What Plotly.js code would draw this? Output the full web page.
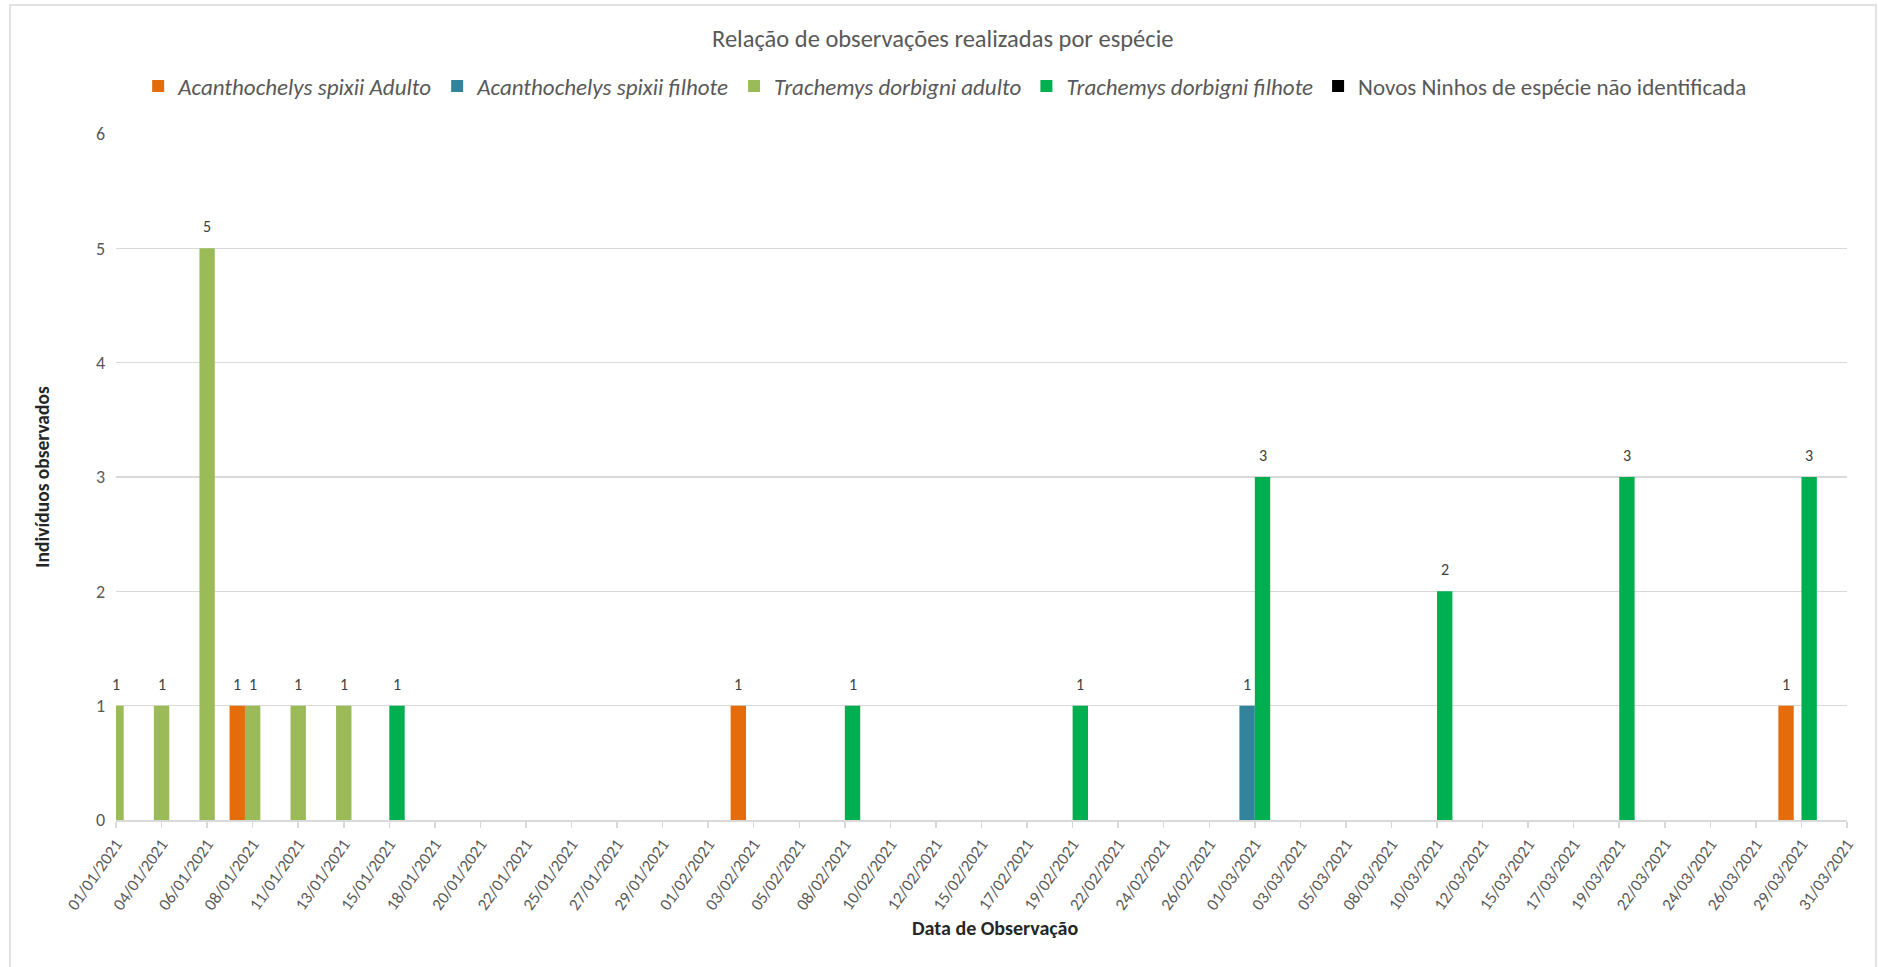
<!DOCTYPE html>
<html>
<head>
<meta charset="utf-8">
<script src="https://cdn.plot.ly/plotly-3.0.1.min.js"></script>
<style>html,body{margin:0;padding:0;background:#fff;}#chart{width:1878px;height:967px;}</style>
</head>
<body>
<div id="chart"></div>
<script>
// ---- data ----
const categories = ['01/01/2021','04/01/2021','06/01/2021','08/01/2021','11/01/2021','13/01/2021','15/01/2021','18/01/2021','20/01/2021','22/01/2021','25/01/2021','27/01/2021','29/01/2021','01/02/2021','03/02/2021','05/02/2021','08/02/2021','10/02/2021','12/02/2021','15/02/2021','17/02/2021','19/02/2021','22/02/2021','24/02/2021','26/02/2021','01/03/2021','03/03/2021','05/03/2021','08/03/2021','10/03/2021','12/03/2021','15/03/2021','17/03/2021','19/03/2021','22/03/2021','24/03/2021','26/03/2021','29/03/2021','31/03/2021'];

const seriesNames = ['Acanthochelys spixii Adulto','Acanthochelys spixii filhote','Trachemys dorbigni adulto','Trachemys dorbigni filhote','Novos Ninhos de espécie não identificada'];

const acanthoAdultoDates = ['08/01/2021','03/02/2021','29/03/2021'];
const acanthoAdultoValues = [1,1,1];
const acanthoFilhoteDates = ['01/03/2021'];
const acanthoFilhoteValues = [1];
const trachAdultoDates = ['01/01/2021','04/01/2021','06/01/2021','08/01/2021','11/01/2021','13/01/2021'];
const trachAdultoValues = [1,1,5,1,1,1];
const trachFilhoteDates = ['15/01/2021','08/02/2021','19/02/2021','01/03/2021','10/03/2021','19/03/2021','29/03/2021'];
const trachFilhoteValues = [1,1,1,3,2,3,3];
const ninhosDates = [];
const ninhosValues = [];

const yTicks = [0,1,2,3,4,5,6];

// ---- styles ----
const colors = ['#E46C0A','#31849B','#9BBB59','#00B050','#000000'];
const italic = [true,true,true,true,false];
const FONT = "Carlito, 'Liberation Sans Narrow', Lato, sans-serif";
const barWidth = 0.338;           // in category units (Excel overlap 50%)
const step = barWidth/2;
const offsets = [-3*step,-2*step,-step,0,step];

const seriesData = [
  [acanthoAdultoDates, acanthoAdultoValues],
  [acanthoFilhoteDates, acanthoFilhoteValues],
  [trachAdultoDates, trachAdultoValues],
  [trachFilhoteDates, trachFilhoteValues],
  [ninhosDates, ninhosValues]
];

const traces = [];
const annotations = [];
seriesData.forEach(([dates, vals], i) => {
  const xs = dates.map(d => categories.indexOf(d));
  traces.push({
    type: 'bar',
    name: italic[i] ? '<i>' + seriesNames[i] + '</i>' : seriesNames[i],
    x: xs.length ? xs : [null],
    y: vals.length ? vals : [null],
    width: barWidth,
    offset: offsets[i],
    marker: {color: colors[i], line: {width: 0}},
    hoverinfo: 'x+y+name'
  });
  xs.forEach((x, k) => {
    annotations.push({
      x: x + offsets[i] + barWidth/2, y: vals[k], xref: 'x', yref: 'y',
      text: String(vals[k]), showarrow: false, yanchor: 'bottom', yshift: 10,
      font: {family: FONT, size: 16, color: '#404040'}
    });
  });
});

// x-axis title (placed as an annotation so it can sit slightly right of centre, as in the original)
annotations.push({
  text: 'Data de Observação', xref: 'paper', yref: 'paper',
  x: (995 - 116) / 1731, y: (820 - 928) / 686, xanchor: 'center', yanchor: 'middle',
  showarrow: false, font: {family: FONT, size: 20, color: '#262626', weight: 'bold'}
});

const layout = {
  width: 1878, height: 967,
  margin: {l: 116, r: 31, t: 134, b: 147},
  paper_bgcolor: '#ffffff', plot_bgcolor: '#ffffff',
  barmode: 'overlay',
  font: {family: FONT, color: '#595959'},
  title: {
    text: 'Relação de observações realizadas por espécie',
    font: {family: FONT, size: 24.5, color: '#595959'},
    x: 0.502, xref: 'container', xanchor: 'center',
    y: 1 - 38/967, yref: 'container', yanchor: 'middle'
  },
  legend: {
    orientation: 'h', x: 0.479, xanchor: 'center', y: 1.07, yanchor: 'middle',
    font: {family: FONT, size: 23, color: '#595959'},
    itemclick: false, bgcolor: 'rgba(0,0,0,0)'
  },
  xaxis: {
    type: 'linear', range: [0, categories.length - 1],
    tickmode: 'array', tickvals: categories.map((_, i) => i), ticktext: categories,
    tickangle: -55, tickfont: {family: FONT, size: 17, color: '#595959'},
    showgrid: false, zeroline: false,
    showline: true, linecolor: '#d9d9d9', linewidth: 1.5,
    ticks: 'outside', ticklen: 6, tickcolor: '#d9d9d9', tickwidth: 1.5
  },
  yaxis: {
    range: [0, 6], tickmode: 'array', tickvals: yTicks,
    tickfont: {family: FONT, size: 18, color: '#595959'},
    ticklabelstandoff: 10,
    showgrid: true, gridcolor: '#d9d9d9', gridwidth: 1.5,
    zeroline: false, showline: false, ticks: '',
    title: {text: 'Indivíduos observados', font: {family: FONT, size: 19.5, color: '#262626', weight: 'bold'}, standoff: 41}
  },
  annotations: annotations,
  shapes: [{
    type: 'rect', xref: 'paper', yref: 'paper',
    x0: (10 - 116) / 1731, x1: (1876 - 116) / 1731,
    y0: (820 - 980) / 686, y1: (820 - 5) / 686,
    line: {color: '#d9d9d9', width: 1.5}, fillcolor: 'rgba(0,0,0,0)', layer: 'below'
  }]
};

Plotly.newPlot('chart', traces, layout, {staticPlot: true, displayModeBar: false});
</script>
</body>
</html>
